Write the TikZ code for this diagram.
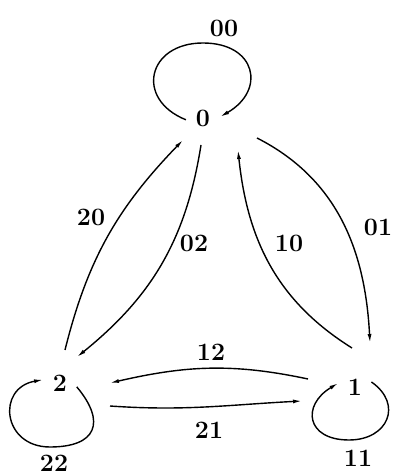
\documentclass[tikz,border=0pt]{standalone}
\usetikzlibrary{arrows.meta,calc}
\begin{document}
\begin{tikzpicture}[x=1pt,y=1pt,
  state/.style={circle,minimum size=34pt,inner sep=0pt,font=\fontsize{25}{28}\selectfont\bfseries},
  lbl/.style={inner sep=0pt,font=\fontsize{25}{28}\selectfont\bfseries},
  edge/.style={line width=1.4pt,-{Latex[length=9pt,width=4pt]}}]
\useasboundingbox (0,0) rectangle (393,476);
\node[state] (n0) at (203,358) {0};
\node[state] (n2) at (60,93) {2};
\node[state] (n1) at (355,89) {1};
\coordinate (t0) at (203,433);
\coordinate (b2) at (50,29);
\coordinate (b1) at (349,36);
% self loops
\draw[edge] (n0.186) to[out=158,in=180,looseness=1.8] (t0) to[out=0,in=30,looseness=1.8] (n0.4);
\draw[edge] (n2.-13) to[out=-50,in=0,looseness=1.8] (b2) to[out=180,in=190,looseness=1.8] (n2.169);
\draw[edge] (n1.17) to[out=-35,in=0,looseness=1.6] (b1) to[out=180,in=211,looseness=1.9] (n1.167);
% edges between states
\draw[edge] ($(n0)+(-2,-27)$) to[out=261,in=39] ($(n2)+(17,26)$);
\draw[edge] ($(n2)+(5,33)$) to[out=76,in=226] ($(n0)+(-20,-22)$);
\draw[edge] ($(n1)+(-3,39)$) to[out=148,in=276] ($(n0)+(35,-32)$);
\draw[edge] ($(n0)+(54,-20)$) to[out=-27,in=93] ($(n1)+(15,44)$);
\draw[edge] ($(n1)+(-47,8)$) to[out=168,in=13] ($(n2)+(50,0)$);
\draw[edge] ($(n2)+(50,-23)$) to[out=-4,in=183] ($(n1)+(-53,-14)$);
% labels
\node[lbl] (l00) at (224,448) {00};
\node[lbl] (l20) at (91,259) {20};
\node[lbl] (l02) at (194,233) {02};
\node[lbl] (l10) at (289,233) {10};
\node[lbl] (l01) at (378,249) {01};
\node[lbl] (l12) at (211,124) {12};
\node[lbl] (l21) at (209,46) {21};
\node[lbl] (l22) at (54,13) {22};
\node[lbl] (l11) at (358,18) {11};
\end{tikzpicture}
\end{document}
